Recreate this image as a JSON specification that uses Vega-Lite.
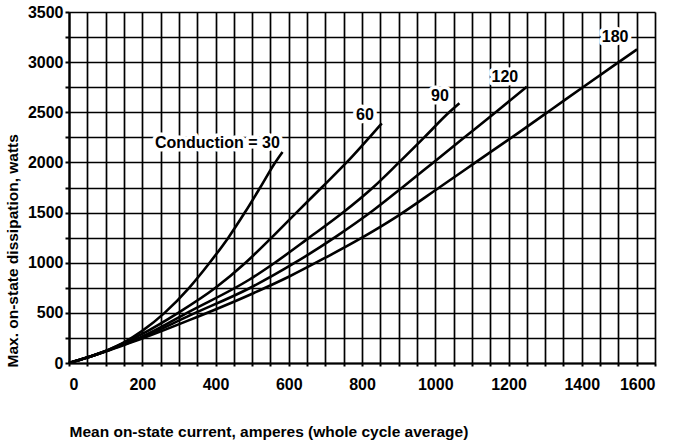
{
  "$schema": "https://vega.github.io/schema/vega-lite/v6.json",
  "autosize": {"type": "none"},
  "padding": {"left": 69, "top": 12, "right": 18, "bottom": 81},
  "width": 586,
  "height": 351,
  "background": "white",
  "config": {
    "view": {"stroke": null},
    "font": "Liberation Sans",
    "axis": {
      "gridColor": "black", "gridOpacity": 1, "gridWidth": 1.7,
      "domainColor": "black", "domainWidth": 2.2,
      "tickColor": "black", "tickWidth": 2, "tickSize": 4,
      "labelFont": "Liberation Sans", "labelFontWeight": "bold", "labelFontSize": 16, "labelColor": "black",
      "titleFont": "Liberation Sans", "titleFontWeight": "bold", "titleFontSize": 15.5, "titleColor": "black"
    }
  },
  "datasets": {
    "curves": [
      {"current": 0, "power": 0, "angle": "30"},
      {"current": 50, "power": 55, "angle": "30"},
      {"current": 100, "power": 120, "angle": "30"},
      {"current": 150, "power": 205, "angle": "30"},
      {"current": 200, "power": 320, "angle": "30"},
      {"current": 261, "power": 500, "angle": "30"},
      {"current": 328, "power": 750, "angle": "30"},
      {"current": 384, "power": 1000, "angle": "30"},
      {"current": 435, "power": 1250, "angle": "30"},
      {"current": 480, "power": 1500, "angle": "30"},
      {"current": 522, "power": 1750, "angle": "30"},
      {"current": 563, "power": 2000, "angle": "30"},
      {"current": 583, "power": 2105, "angle": "30"},

      {"current": 0, "power": 0, "angle": "60"},
      {"current": 50, "power": 55, "angle": "60"},
      {"current": 100, "power": 120, "angle": "60"},
      {"current": 150, "power": 200, "angle": "60"},
      {"current": 200, "power": 290, "angle": "60"},
      {"current": 298, "power": 500, "angle": "60"},
      {"current": 400, "power": 750, "angle": "60"},
      {"current": 482, "power": 1000, "angle": "60"},
      {"current": 553, "power": 1250, "angle": "60"},
      {"current": 621, "power": 1500, "angle": "60"},
      {"current": 690, "power": 1750, "angle": "60"},
      {"current": 758, "power": 2000, "angle": "60"},
      {"current": 854, "power": 2390, "angle": "60"},

      {"current": 0, "power": 0, "angle": "90"},
      {"current": 50, "power": 55, "angle": "90"},
      {"current": 100, "power": 118, "angle": "90"},
      {"current": 150, "power": 190, "angle": "90"},
      {"current": 200, "power": 265, "angle": "90"},
      {"current": 330, "power": 515, "angle": "90"},
      {"current": 494, "power": 835, "angle": "90"},
      {"current": 562, "power": 1000, "angle": "90"},
      {"current": 656, "power": 1250, "angle": "90"},
      {"current": 748, "power": 1500, "angle": "90"},
      {"current": 830, "power": 1750, "angle": "90"},
      {"current": 901, "power": 2000, "angle": "90"},
      {"current": 970, "power": 2250, "angle": "90"},
      {"current": 1038, "power": 2500, "angle": "90"},
      {"current": 1066, "power": 2590, "angle": "90"},

      {"current": 0, "power": 0, "angle": "120"},
      {"current": 50, "power": 55, "angle": "120"},
      {"current": 100, "power": 117, "angle": "120"},
      {"current": 150, "power": 185, "angle": "120"},
      {"current": 200, "power": 255, "angle": "120"},
      {"current": 330, "power": 475, "angle": "120"},
      {"current": 494, "power": 748, "angle": "120"},
      {"current": 617, "power": 1000, "angle": "120"},
      {"current": 731, "power": 1265, "angle": "120"},
      {"current": 830, "power": 1520, "angle": "120"},
      {"current": 910, "power": 1750, "angle": "120"},
      {"current": 995, "power": 2000, "angle": "120"},
      {"current": 1080, "power": 2250, "angle": "120"},
      {"current": 1165, "power": 2500, "angle": "120"},
      {"current": 1250, "power": 2755, "angle": "120"},

      {"current": 0, "power": 0, "angle": "180"},
      {"current": 50, "power": 55, "angle": "180"},
      {"current": 100, "power": 115, "angle": "180"},
      {"current": 150, "power": 180, "angle": "180"},
      {"current": 200, "power": 245, "angle": "180"},
      {"current": 330, "power": 430, "angle": "180"},
      {"current": 494, "power": 681, "angle": "180"},
      {"current": 600, "power": 860, "angle": "180"},
      {"current": 700, "power": 1050, "angle": "180"},
      {"current": 800, "power": 1250, "angle": "180"},
      {"current": 895, "power": 1460, "angle": "180"},
      {"current": 1013, "power": 1755, "angle": "180"},
      {"current": 1114, "power": 2010, "angle": "180"},
      {"current": 1225, "power": 2290, "angle": "180"},
      {"current": 1320, "power": 2535, "angle": "180"},
      {"current": 1405, "power": 2755, "angle": "180"},
      {"current": 1501, "power": 3000, "angle": "180"},
      {"current": 1551, "power": 3127, "angle": "180"}
    ],
    "labels": [
      {"current": 405, "power": 2189, "label": "Conduction = 30"},
      {"current": 808, "power": 2473, "label": "60"},
      {"current": 1013, "power": 2662, "label": "90"},
      {"current": 1190, "power": 2847, "label": "120"},
      {"current": 1491, "power": 3246, "label": "180"}
    ]
  },
  "encoding": {
    "x": {
      "field": "current", "type": "quantitative",
      "scale": {"domain": [0, 1600], "nice": false, "zero": true},
      "axis": {
        "values": [0,50,100,150,200,250,300,350,400,450,500,550,600,650,700,750,800,850,900,950,1000,1050,1100,1150,1200,1250,1300,1350,1400,1450,1500,1550,1600],
        "labelExpr": "datum.value % 200 === 0 ? format(datum.value, 'd') : ''",
        "labelOverlap": false,
        "labelPadding": 10,
        "labelBaseline": "top",
        "tickSize": 3,
        "title": "Mean on-state current, amperes (whole cycle average)",
        "titleAnchor": "start",
        "titleAlign": "left",
        "titleBaseline": "alphabetic",
        "titleX": 0,
        "titleY": 73
      }
    },
    "y": {
      "field": "power", "type": "quantitative",
      "scale": {"domain": [0, 3500], "nice": false, "zero": true},
      "axis": {
        "values": [0,250,500,750,1000,1250,1500,1750,2000,2250,2500,2750,3000,3250,3500],
        "labelExpr": "datum.value % 500 === 0 ? format(datum.value, 'd') : ''",
        "labelOverlap": false,
        "labelPadding": 2,
        "tickSize": 4,
        "title": "Max. on-state dissipation, watts",
        "titleAngle": -90,
        "titleAlign": "left",
        "titleBaseline": "alphabetic",
        "titleX": -52,
        "titleY": 355
      }
    }
  },
  "layer": [
    {
      "data": {"name": "curves"},
      "mark": {"type": "line", "color": "black", "strokeWidth": 2.6, "interpolate": "monotone"},
      "encoding": {
        "detail": {"field": "angle", "type": "nominal"}
      }
    },
    {
      "data": {"name": "labels"},
      "mark": {"type": "text", "font": "Liberation Sans", "fontWeight": "bold", "fontSize": 16, "color": "white", "stroke": "white", "strokeWidth": 7, "strokeJoin": "round", "align": "center", "baseline": "middle"},
      "encoding": {
        "text": {"field": "label", "type": "nominal"}
      }
    },
    {
      "data": {"name": "labels"},
      "mark": {"type": "text", "font": "Liberation Sans", "fontWeight": "bold", "fontSize": 16, "color": "black", "align": "center", "baseline": "middle"},
      "encoding": {
        "text": {"field": "label", "type": "nominal"}
      }
    }
  ]
}
